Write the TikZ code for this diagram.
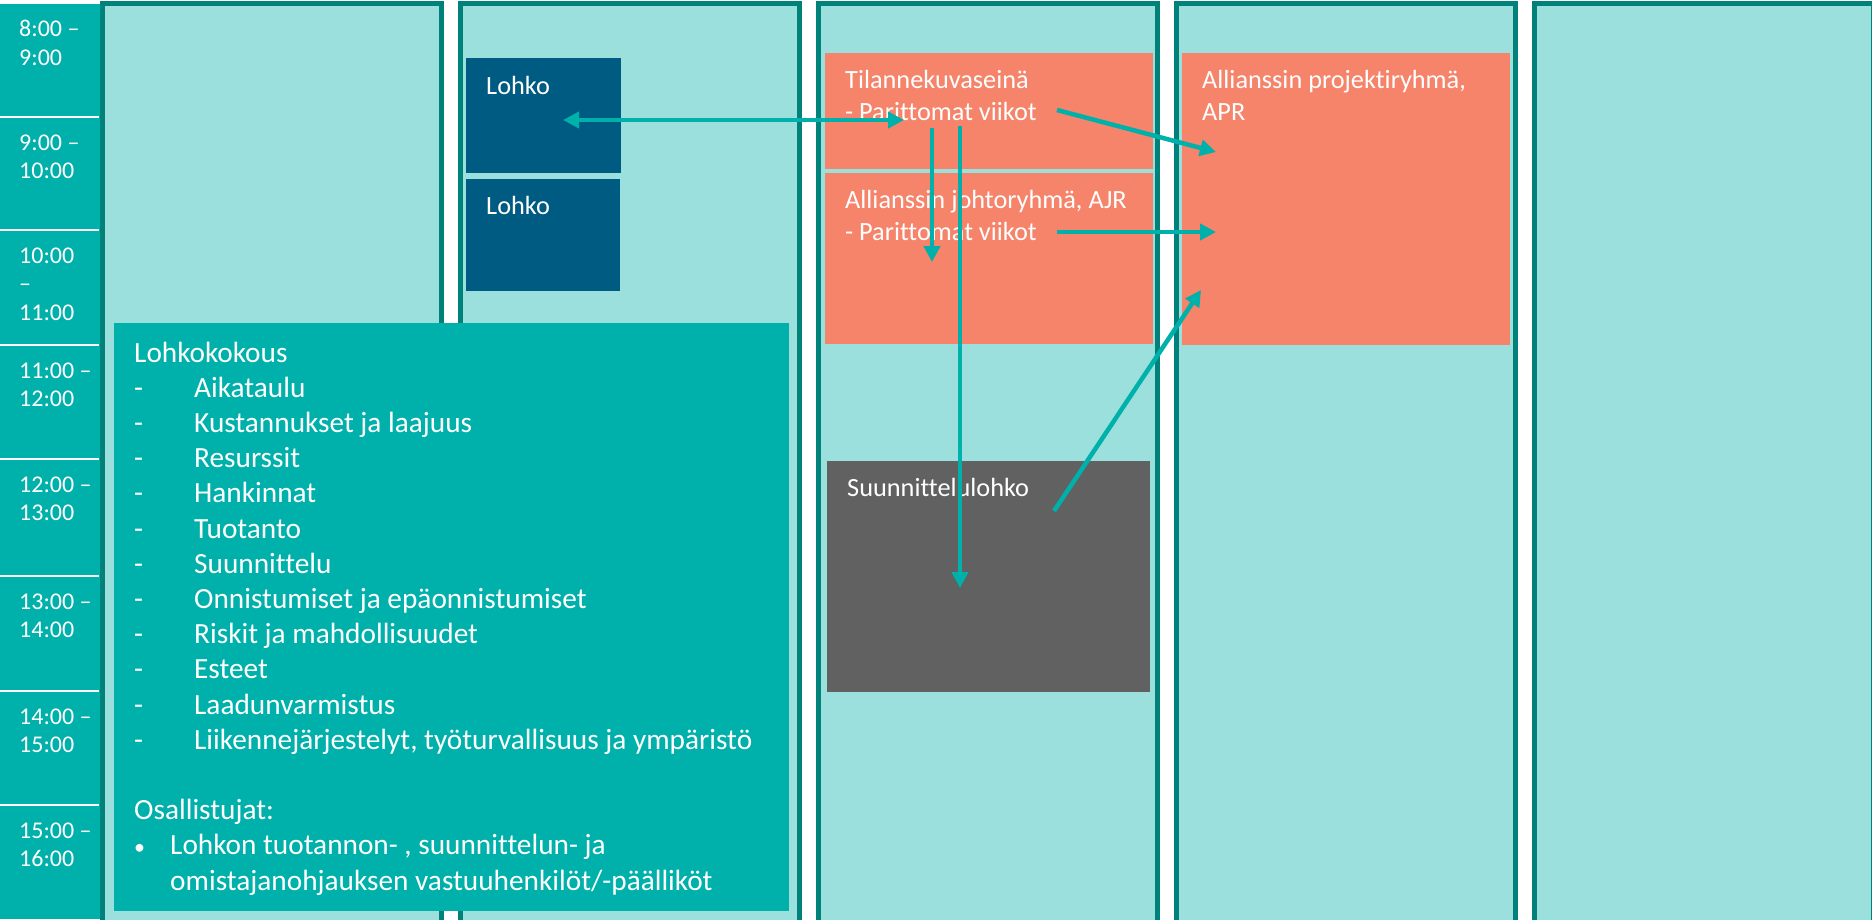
\documentclass[tikz,border=0pt]{standalone}
\usepackage{fontspec}
\setmainfont{Carlito}[Ligatures={NoCommon}]
\usetikzlibrary{arrows.meta}
\definecolor{timeteal}{HTML}{00B0AA}
\definecolor{collight}{HTML}{9BE0DC}
\definecolor{colborder}{HTML}{00827A}
\definecolor{lohkoblue}{HTML}{005B82}
\definecolor{orangebox}{HTML}{F5846B}
\definecolor{graybox}{HTML}{616161}
\definecolor{arrowteal}{HTML}{00B0AA}
\newcommand{\mltext}[2]{\parbox[t]{#1}{\raggedright #2}}
\begin{document}
\begin{tikzpicture}[x=1pt,y=-1pt,
  colbox/.style={fill=collight,draw=colborder,line width=5pt},
  blockbox/.style={anchor=north west,inner sep=0pt,outer sep=0pt},
  timelbl/.style={anchor=base west,inner sep=0pt,text=white,font=\fontsize{24}{28.7}\selectfont},
  boxlbl/.style={anchor=base west,inner sep=0pt,text=white,font=\fontsize{26.3}{32}\selectfont},
  listlbl/.style={anchor=base west,inner sep=0pt,text=white,font=\fontsize{29.3}{35.2}\selectfont},
  conn/.style={draw=arrowteal,line width=4.5pt,-{Triangle[length=16pt,width=16pt]}},
  dconn/.style={draw=arrowteal,line width=4.5pt,{Triangle[length=16pt,width=16pt]}-{Triangle[length=16pt,width=16pt]}}]
\useasboundingbox (0,0) rectangle (1872,919);
\fill[white] (0,0) rectangle (1872,919);
% day columns
\foreach \k in {0,...,4}{
  \draw[colbox] ({102.5+358*\k},3.5) rectangle ({441.5+358*\k},935);
}
% time column
\fill[timeteal] (0,4) rectangle (100,919);
\foreach \yy in {117,230,345,459,576,691,805}{
  \draw[white,line width=1.5pt] (0,\yy) -- (99,\yy);
}
\node[timelbl] (t1) at (19,36.5) {\mltext{80pt}{8:00 –\\9:00}};
\node[timelbl] (t2) at (19,150) {\mltext{80pt}{9:00 –\\10:00}};
\node[timelbl] (t3) at (19,263) {\mltext{80pt}{10:00\\–\\11:00}};
\node[timelbl] (t4) at (19,378) {\mltext{80pt}{11:00 –\\12:00}};
\node[timelbl] (t5) at (19,492) {\mltext{80pt}{12:00 –\\13:00}};
\node[timelbl] (t6) at (19,609) {\mltext{80pt}{13:00 –\\14:00}};
\node[timelbl] (t7) at (19,724) {\mltext{80pt}{14:00 –\\15:00}};
\node[timelbl] (t8) at (19,838) {\mltext{80pt}{15:00 –\\16:00}};
% blocks
\node[blockbox,fill=lohkoblue,minimum width=155pt,minimum height=115pt] (lohko1) at (466,58) {};
\node[blockbox,fill=lohkoblue,minimum width=154pt,minimum height=112pt] (lohko2) at (466,179) {};
\node[boxlbl] (lohko1t) at (486,94) {Lohko};
\node[boxlbl] (lohko2t) at (486,214) {Lohko};
\node[blockbox,fill=orangebox,minimum width=328pt,minimum height=116pt] (tila) at (825,53) {};
\node[blockbox,fill=orangebox,minimum width=328pt,minimum height=171pt] (ajr) at (825,173) {};
\node[blockbox,fill=orangebox,minimum width=328pt,minimum height=292pt] (apr) at (1182,53) {};
\node[blockbox,fill=graybox,minimum width=323pt,minimum height=231pt] (suun) at (827,461) {};
\node[boxlbl] (tilat) at (845,88) {\mltext{300pt}{Tilannekuvaseinä\\- Parittomat viikot}};
\node[boxlbl] (ajrt) at (845,208) {\mltext{300pt}{Allianssin johtoryhmä, AJR\\- Parittomat viikot}};
\node[boxlbl] (aprt) at (1202,88) {\mltext{300pt}{Allianssin projektiryhmä,\\APR}};
\node[boxlbl] (suunt) at (847,496) {Suunnittelulohko};
% Lohkokokous
\node[blockbox,fill=timeteal,minimum width=675pt,minimum height=588pt] (lk) at (114,323) {};
\node[listlbl] (lkt) at (134,362) {\mltext{650pt}{Lohkokokous\\
\makebox[60pt][l]{-}Aikataulu\\
\makebox[60pt][l]{-}Kustannukset ja laajuus\\
\makebox[60pt][l]{-}Resurssit\\
\makebox[60pt][l]{-}Hankinnat\\
\makebox[60pt][l]{-}Tuotanto\\
\makebox[60pt][l]{-}Suunnittelu\\
\makebox[60pt][l]{-}Onnistumiset ja epäonnistumiset\\
\makebox[60pt][l]{-}Riskit ja mahdollisuudet\\
\makebox[60pt][l]{-}Esteet\\
\makebox[60pt][l]{-}Laadunvarmistus\\
\makebox[60pt][l]{-}Liikennejärjestelyt, työturvallisuus ja ympäristö\\
\mbox{}\\
Osallistujat:\\
\makebox[36pt][l]{\fontsize{22}{22}\selectfont •}Lohkon tuotannon- , suunnittelun- ja\\
\hspace*{36pt}omistajanohjauksen vastuuhenkilöt/-päälliköt}};
% arrows
\coordinate (a1s) at (563,120);
\coordinate (a1e) at (904,120);
\coordinate (a2s) at (932,128);
\coordinate (a2e) at (932,262);
\coordinate (a3s) at (960,126);
\coordinate (a3e) at (960,588);
\coordinate (a4s) at (1057,110);
\coordinate (a4e) at (1216,152);
\coordinate (a5s) at (1057,232);
\coordinate (a5e) at (1216,232);
\coordinate (a6s) at (1054,511);
\coordinate (a6e) at (1201,290);
\draw[dconn] (a1s) -- (a1e);
\draw[conn] (a2s) -- (a2e);
\draw[conn] (a3s) -- (a3e);
\draw[conn] (a4s) -- (a4e);
\draw[conn] (a5s) -- (a5e);
\draw[conn] (a6s) -- (a6e);
\end{tikzpicture}
\end{document}
